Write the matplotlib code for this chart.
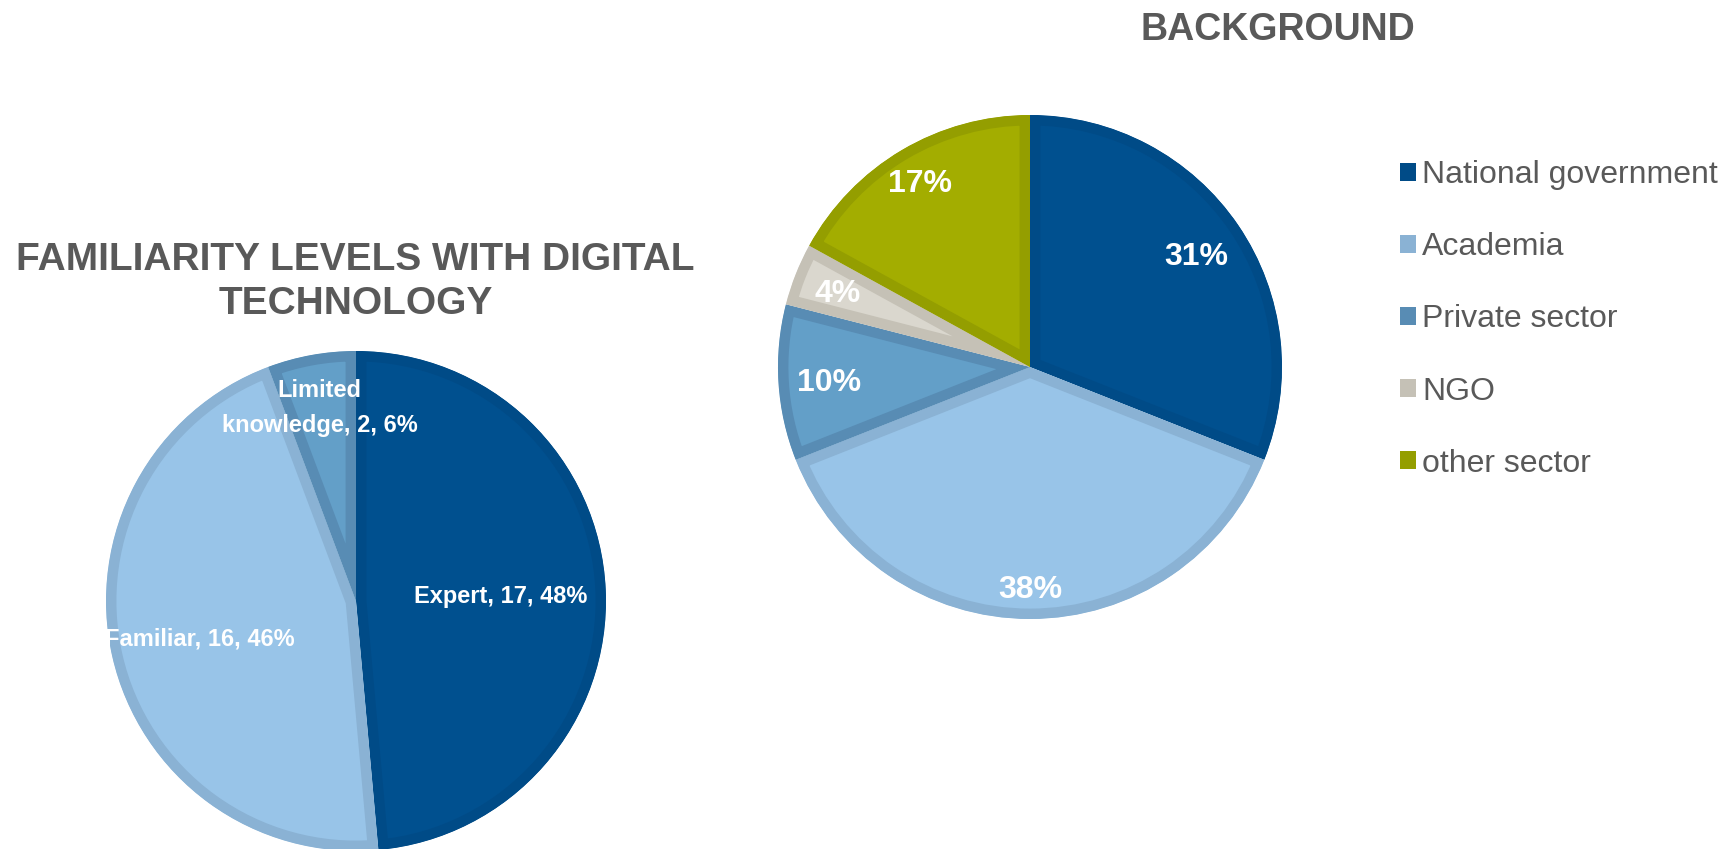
import matplotlib
matplotlib.use('Agg')
import matplotlib.pyplot as plt
from matplotlib.patches import Patch
import numpy as np

plt.rcParams['font.family'] = ['Liberation Sans', 'DejaVu Sans']

# ---- data ----
fam_names = ['Expert', 'Familiar', 'Limited\nknowledge']
fam_counts = [17, 16, 2]
fam_pcts = [48, 46, 6]

bg_names = ['National government', 'Academia', 'Private sector', 'NGO', 'other sector']
bg_pcts = [31, 38, 10, 4, 17]

fam_title = 'FAMILIARITY LEVELS WITH DIGITAL\nTECHNOLOGY'
bg_title = 'BACKGROUND'

# ---- style ----
fam_fill = ['#00508F', '#98C4E8', '#639FC8']
fam_edge = ['#004B87', '#8AB2D4', '#588CB4']
bg_fill = ['#00508F', '#98C4E8', '#639FC8', '#DAD7CE', '#A3AD00']
bg_edge = ['#004B87', '#8AB2D4', '#588CB4', '#C5C1B6', '#949E00']
fam_dist = [0.58, 0.64, 0.82]
bg_dist = [0.80, 0.87, 0.80, 0.82, 0.86]
GREY = '#595959'

W, H = 1734, 849
fig = plt.figure(figsize=(W / 100, H / 100), dpi=100)
ax = fig.add_axes([0, 0, 1, 1])


def draw_pie(values, center, radius, fills, edges, texts, dists, fs):
    wedges, _ = ax.pie(values, center=center, radius=radius, startangle=90,
                       counterclock=False, colors=fills)
    for w, e, t, d in zip(wedges, edges, texts, dists):
        w.set_edgecolor(e)
        w.set_linewidth(15)
        w.set_joinstyle('miter')
        w.set_clip_on(True)
        w.set_clip_path(w)
        th = np.deg2rad((w.theta1 + w.theta2) / 2)
        x = center[0] + d * radius * np.cos(th)
        y = center[1] + d * radius * np.sin(th)
        ax.text(x, y, t, ha='center', va='center_baseline', color='white',
                fontsize=fs, fontweight='bold', linespacing=1.7)
    return wedges


fam_texts = [f'{n}, {c}, {p}%' for n, c, p in zip(fam_names, fam_counts, fam_pcts)]
draw_pie(fam_counts, (356, H - 601), 250, fam_fill, fam_edge, fam_texts, fam_dist, 17)

bg_texts = [f'{p}%' for p in bg_pcts]
draw_pie(bg_pcts, (1030, H - 367), 252, bg_fill, bg_edge, bg_texts, bg_dist, 23)

ax.set_xlim(0, W)
ax.set_ylim(0, H)
ax.set_aspect('equal')
ax.axis('off')

ax.text(355.5, H - 282, fam_title, ha='center', va='center', fontsize=28,
        fontweight='bold', color=GREY, linespacing=1.27)
ax.text(1278, H - 29.5, bg_title, ha='center', va='center', fontsize=27,
        fontweight='bold', color=GREY)

handles = [Patch(facecolor=c, edgecolor='none') for c in bg_edge]
fig.legend(handles, bg_names, loc='upper left',
           bbox_to_anchor=(1400 / W, 1 - 160 / H), frameon=False,
           fontsize=23, labelcolor=GREY, handlelength=0.5, handleheight=0.5,
           handletextpad=0.2, labelspacing=1.32, borderpad=0, borderaxespad=0)

fig.savefig('out.png', dpi=100)
